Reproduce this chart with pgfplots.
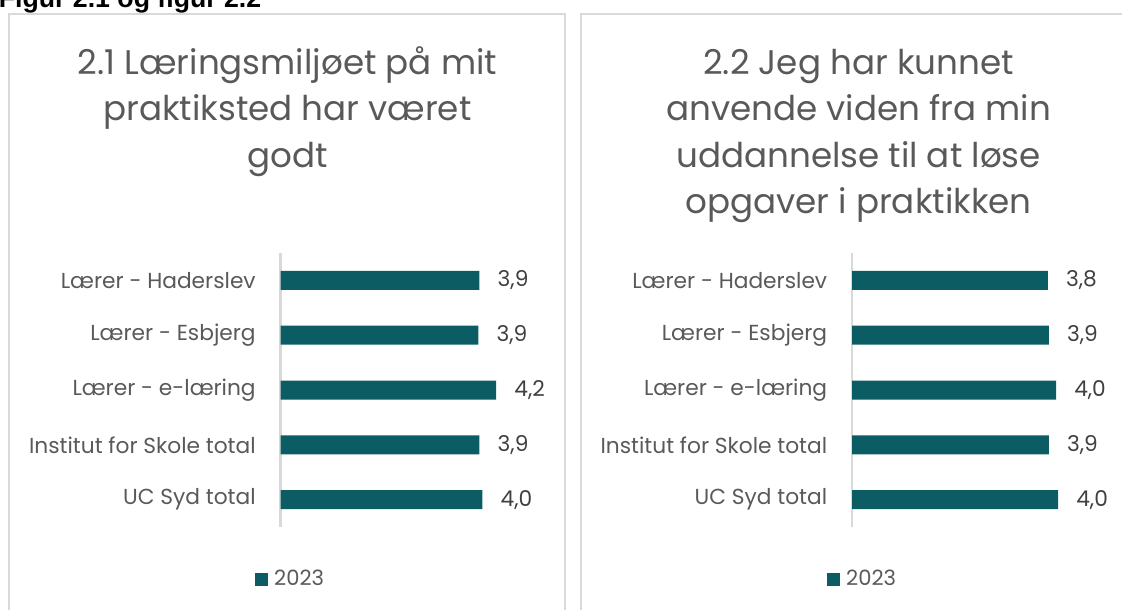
\documentclass[border=0pt]{standalone}
\usepackage{fontspec}
\setmainfont{Poppins}
\newfontfamily\figfont{Liberation Sans}
\usepackage{pgfplots}
\pgfplotsset{compat=1.18}
\definecolor{barteal}{HTML}{0B5D63}
\definecolor{txtgray}{HTML}{595959}
\definecolor{valgray}{HTML}{404040}
\definecolor{linegray}{HTML}{D9D9D9}

\newcommand{\lblfont}{\fontsize{16.3}{19}\selectfont}
\newcommand{\ttlfont}{\fontsize{25.6}{30}\selectfont}

\pgfplotsset{
  panel/.style={
    xbar,
    scale only axis,
    width=191.25pt,
    height=205.5pt,
    xmin=0, xmax=5,
    ymin=-0.5, ymax=4.5,
    y dir=reverse,
    bar width=14.25pt,
    ytick={0,1,2,3,4},
    yticklabels={Lærer - Haderslev, Lærer - Esbjerg, Lærer - e-læring, Institut for Skole total, UC Syd total},
    xtick=\empty,
    axis x line=none,
    axis y line*=left,
    axis line style={-, draw=linegray, line width=1.5pt},
    major tick length=0pt,
    ytick style={draw=none},
    yticklabel style={font=\lblfont, text=txtgray, inner sep=0pt, xshift=-18.4pt},
    point meta=x,
    nodes near coords={\pgfmathprintnumber[fixed,fixed zerofill,precision=1,use comma,assume math mode=true]{\pgfplotspointmeta}},
    nodes near coords align={horizontal},
    every node near coord/.append style={font=\lblfont, text=valgray, anchor=west, inner sep=0pt, xshift=13.5pt},
    legend style={draw=none, fill=none, font=\fontsize{15.8}{18}\selectfont, text=txtgray, anchor=center,
      /tikz/every odd column/.append style={column sep=0pt}},
    legend image code/.code={\fill[barteal] (0pt,-4.9pt) rectangle (9.75pt,4.9pt);},
  }
}

\begin{document}
\begin{tikzpicture}
\useasboundingbox (0,0) rectangle (841.5pt,-457.5pt);
\clip (0,0) rectangle (841.5pt,-457.5pt);

% panel frames
\draw[linegray, line width=1.5pt] (6.75pt,-10.5pt) rectangle (423.75pt,-470pt);
\draw[linegray, line width=1.5pt] (435.75pt,-10.5pt) rectangle (852pt,-470pt);

% figure caption (cut at the top, as in the source)
\node[anchor=base west, inner sep=0pt, font=\figfont\bfseries\fontsize{20}{24}\selectfont] at (-1pt,-6pt) {Figur 2.1 og figur 2.2};

% titles
\begin{scope}[every node/.style={anchor=base, inner sep=0pt, font=\ttlfont, text=txtgray}]
\node at (215.6pt,-56.25pt) {2.1 Læringsmiljøet på mit};
\node at (215.6pt,-90.75pt) {praktiksted har været};
\node at (215.6pt,-125.25pt) {godt};
\node at (643.9pt,-56.25pt) {2.2 Jeg har kunnet};
\node at (643.9pt,-90.75pt) {anvende viden fra min};
\node at (643.9pt,-125.25pt) {uddannelse til at løse};
\node at (643.9pt,-159.75pt) {opgaver i praktikken};
\end{scope}

\begin{axis}[panel, at={(210.375pt,-189.75pt)}, anchor=north west,
  legend style={at={(0.041,-0.19)}}]
\addplot[fill=barteal, draw=none] coordinates {(3.90,0) (3.88,1) (4.23,2) (3.90,3) (3.96,4)};
\addlegendentry{\hspace{2.5pt}2023}
\end{axis}

\begin{axis}[panel, at={(639pt,-189.75pt)}, anchor=north west,
  legend style={at={(0.043,-0.19)}}]
\addplot[fill=barteal, draw=none] coordinates {(3.84,0) (3.86,1) (4.00,2) (3.86,3) (4.04,4)};
\addlegendentry{\hspace{2.5pt}2023}
\end{axis}
\end{tikzpicture}
\end{document}
